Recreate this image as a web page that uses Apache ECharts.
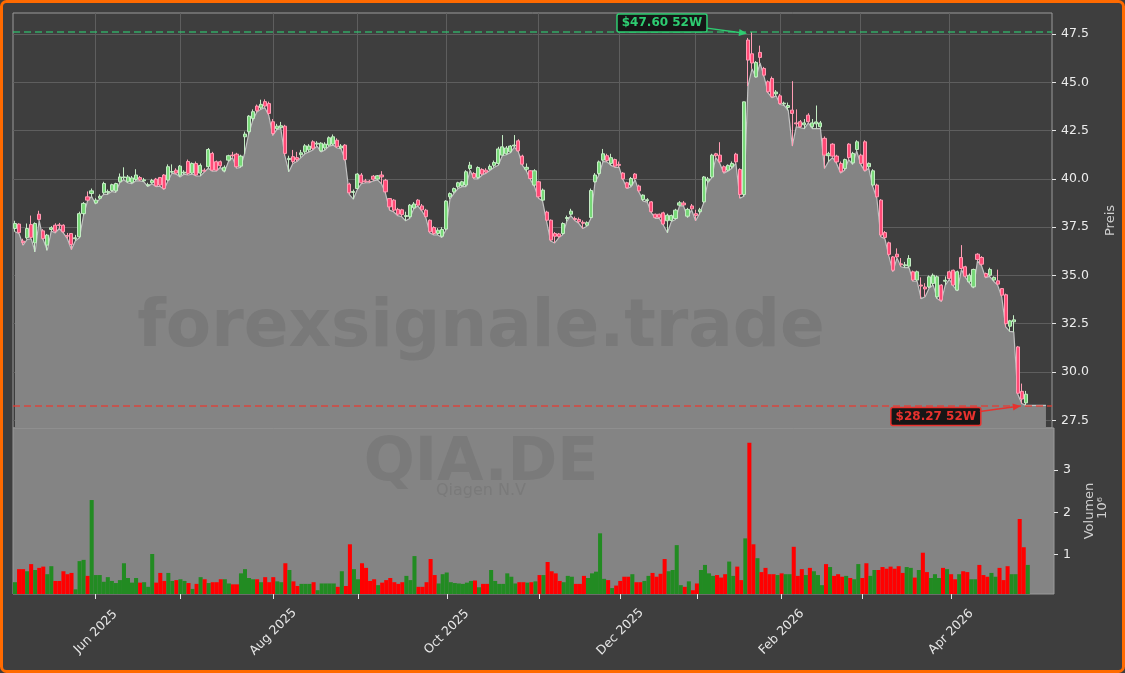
<!DOCTYPE html>
<html><head><meta charset="utf-8">
<script src="https://cdn.jsdelivr.net/npm/echarts@6.0.0/dist/echarts.min.js"></script>
<style>html,body{margin:0;padding:0;background:#3e3e3e;}#c{width:1125px;height:673px;}</style>
</head><body><div id="c"></div>
<script>
// ---- data ----
const startDate = '2025-05-05';
const endDate = '2026-04-30';
const holidays = ['2025-12-24','2025-12-25','2025-12-26','2025-12-31','2026-01-01','2026-04-03','2026-04-06'];
const monthNames = ['Jan','Feb','Mar','Apr','May','Jun','Jul','Aug','Sep','Oct','Nov','Dec'];
const priceTicks = [27.5, 30, 32.5, 35, 37.5, 40, 42.5, 45, 47.5];
const volumeTicks = [1, 2, 3];

const opens = [37.43,37.66,36.78,36.95,37.64,36.69,38.17,37.31,36.57,37.38,
37.60,37.62,37.60,37.07,37.17,36.90,37.00,38.20,39.07,39.24,
38.75,39.00,39.28,39.30,39.40,39.38,39.85,40.06,39.85,39.82,
39.97,40.07,39.90,39.65,39.80,39.99,40.07,40.20,39.94,40.35,
40.45,40.19,40.30,40.90,40.30,40.80,40.30,40.45,40.63,41.32,
40.89,40.89,40.42,40.97,41.23,41.28,40.66,42.18,42.44,43.13,
43.77,43.68,44.00,43.90,42.96,42.60,42.65,42.73,41.00,41.15,
41.10,41.25,41.40,41.50,41.92,41.80,41.45,41.60,41.75,41.80,
42.00,41.60,41.75,39.73,39.30,39.50,40.20,39.90,39.88,40.14,
39.99,40.20,39.93,38.98,38.90,38.42,38.40,38.05,38.04,38.50,
38.90,38.60,38.38,37.86,37.48,37.17,37.03,37.40,39.07,39.33,
39.59,39.65,39.68,40.54,40.28,40.07,40.49,40.45,40.50,40.70,
40.80,41.23,41.30,41.40,41.70,41.97,41.18,40.50,40.42,39.68,
39.85,38.90,38.28,37.86,37.17,37.15,37.17,37.95,38.17,37.95,
37.90,37.75,37.60,38.00,39.85,40.28,40.97,41.20,40.80,41.00,
40.75,40.30,39.80,39.68,40.25,39.63,38.93,38.88,38.81,38.17,
38.17,38.24,37.83,37.85,37.95,38.64,38.75,38.07,38.60,38.20,
38.30,38.81,39.90,40.10,41.30,41.23,40.63,40.45,40.63,41.28,
40.49,39.19,47.19,46.48,45.28,46.55,45.72,45.03,45.20,44.40,
44.30,43.88,43.70,43.56,42.90,42.96,42.80,43.30,42.70,42.85,
42.70,42.10,41.20,41.80,41.18,40.80,40.54,41.80,40.83,41.52,
41.23,41.92,40.63,39.68,39.68,38.90,37.22,36.69,35.96,36.10,
35.60,35.50,35.48,35.19,34.76,34.50,34.40,34.41,34.58,33.89,
34.50,34.70,35.19,35.27,34.24,35.93,35.45,34.67,34.41,36.10,
35.93,35.10,35.01,34.76,34.72,34.32,34.00,32.37,32.60,31.30,
29.00,28.40];
const closes = [37.69,37.22,36.70,37.43,36.97,37.69,37.90,36.91,37.09,37.47,
37.29,37.58,37.26,37.03,36.60,36.95,38.20,38.73,38.90,39.38,
38.90,39.10,39.76,39.35,39.70,39.76,40.10,40.10,40.10,40.05,
40.20,39.95,39.95,39.70,39.92,39.64,39.68,39.50,40.63,40.38,
40.30,40.66,40.35,40.28,40.80,40.20,40.70,40.40,41.52,40.45,
40.45,40.68,40.60,41.20,41.20,40.63,41.18,42.32,43.25,43.48,
43.53,43.86,43.77,43.39,42.35,42.73,42.75,41.32,41.06,40.90,
41.00,41.35,41.71,41.70,41.58,41.85,41.85,41.80,42.13,42.18,
41.66,41.70,41.00,39.28,39.35,40.25,39.80,39.85,39.85,39.98,
40.16,40.10,39.33,38.55,38.38,38.17,38.15,38.10,38.64,38.70,
38.64,38.40,38.04,37.26,37.17,37.34,37.38,38.85,39.24,39.50,
39.80,39.85,40.37,40.71,40.07,40.59,40.25,40.35,40.65,40.85,
41.55,41.66,41.60,41.70,41.75,41.45,40.76,40.60,40.02,40.42,
39.07,39.42,37.86,36.83,37.03,37.02,37.69,38.00,38.33,37.90,
37.78,37.70,37.73,39.40,40.20,40.88,41.30,40.95,41.10,40.66,
40.70,40.00,39.54,40.02,40.02,39.38,39.16,38.92,38.30,38.00,
38.00,37.66,38.12,38.10,38.38,38.76,38.65,38.42,38.45,38.10,
38.40,40.10,40.00,41.23,41.20,40.88,40.37,40.70,40.80,40.88,
39.19,43.99,46.15,46.00,46.03,46.29,45.37,44.51,44.25,44.50,
43.90,43.92,43.80,43.39,42.85,42.70,42.90,42.96,42.90,42.95,
42.90,41.23,41.30,41.18,40.88,40.37,41.00,41.10,41.32,41.92,
40.80,40.45,40.80,40.42,39.07,37.09,36.97,36.09,35.27,35.96,
35.55,35.55,35.88,34.76,35.19,34.45,34.30,34.93,35.01,34.93,
33.72,34.75,34.84,34.50,35.19,35.36,34.96,35.01,35.31,35.83,
35.58,34.93,35.31,34.90,34.55,33.98,32.50,32.65,32.70,28.90,
28.60,28.85];
const lows = [37.26,37.17,36.57,36.86,36.90,36.22,37.85,36.86,36.30,37.30,
37.20,37.43,37.20,36.90,36.34,36.80,36.95,38.10,38.85,39.10,
38.70,38.95,39.20,39.20,39.35,39.30,39.80,39.95,39.80,39.75,
39.90,39.90,39.85,39.60,39.75,39.60,39.62,39.45,39.90,40.30,
40.25,40.10,40.25,40.20,40.25,40.15,40.15,40.35,40.55,40.40,
40.40,40.60,40.35,40.90,41.10,40.55,40.60,41.30,42.30,43.00,
43.45,43.60,43.70,43.30,42.25,42.55,42.60,41.20,40.37,40.80,
40.90,41.10,41.30,41.40,41.50,41.70,41.40,41.50,41.70,41.75,
41.60,41.55,40.95,39.20,38.95,39.45,39.75,39.80,39.80,39.90,
39.95,39.75,39.25,38.38,38.30,38.10,38.05,37.83,37.95,38.45,
38.60,38.35,38.00,37.20,37.10,37.10,36.96,37.35,38.95,39.25,
39.50,39.60,39.60,40.45,40.00,40.00,40.20,40.30,40.45,40.60,
40.71,41.20,41.25,41.35,41.65,41.40,40.70,40.40,39.95,39.60,
39.00,38.85,37.80,36.78,36.68,36.95,37.10,37.80,38.10,37.85,
37.70,37.43,37.55,37.95,39.80,40.20,40.90,40.88,40.70,40.60,
40.60,39.95,39.50,39.60,39.95,39.30,38.85,38.80,38.25,37.95,
37.95,37.60,37.21,37.80,37.90,38.60,38.60,38.00,38.40,37.83,
38.20,38.75,39.80,40.05,41.10,40.80,40.30,40.40,40.55,40.80,
39.00,39.10,44.80,45.70,45.25,46.00,45.30,44.45,44.20,44.30,
43.85,43.80,43.55,41.70,42.70,42.65,42.60,42.90,42.60,42.60,
42.60,40.54,40.90,41.10,40.80,40.30,40.45,41.00,40.75,41.45,
40.75,40.40,40.55,39.60,39.00,37.00,36.90,36.00,35.20,35.90,
35.45,35.40,35.40,34.70,34.70,33.80,33.90,34.35,34.50,33.80,
33.65,34.50,34.80,34.45,34.20,35.30,34.90,34.60,34.35,35.75,
35.50,34.88,34.95,34.70,34.50,33.90,32.34,32.10,32.08,28.85,
28.37,28.27];
const highs = [37.83,37.70,36.90,37.69,38.10,37.75,38.35,37.40,37.15,37.55,
37.70,37.72,37.65,37.20,37.20,37.10,38.30,38.80,39.35,39.50,
39.00,39.20,39.85,39.45,39.75,39.80,40.28,40.60,40.20,40.15,
40.50,40.15,40.05,39.80,40.00,40.05,40.10,40.25,40.75,40.75,
40.55,40.72,40.45,41.00,40.85,40.90,40.80,40.55,41.60,41.40,
40.95,40.95,40.70,41.25,41.40,41.35,41.25,42.45,43.30,43.60,
43.85,44.10,44.12,44.00,43.10,42.85,42.95,42.80,41.20,41.50,
41.40,41.50,41.80,41.80,42.00,41.95,41.90,41.90,42.20,42.30,
42.10,41.80,41.80,39.80,39.45,40.30,40.30,40.00,39.95,40.20,
40.20,40.40,40.00,39.00,38.95,38.50,38.45,38.30,38.70,38.80,
38.95,38.70,38.45,37.90,37.55,37.45,37.50,38.90,39.30,39.55,
39.85,39.90,40.45,40.88,40.35,40.65,40.55,40.55,40.75,40.95,
41.66,42.27,41.70,41.75,42.27,42.05,41.25,40.80,40.45,40.50,
39.90,39.50,38.35,37.90,37.25,37.20,37.75,38.10,38.45,38.05,
38.00,37.85,37.80,39.50,40.30,40.95,41.55,41.30,41.30,41.05,
40.90,40.35,39.85,40.10,40.30,39.70,39.20,39.00,38.85,38.20,
38.20,38.30,38.20,38.15,38.45,38.85,38.85,38.50,38.70,38.40,
38.50,40.15,40.10,41.30,41.35,41.90,40.70,40.75,40.90,41.35,
40.55,44.00,47.30,47.60,46.10,46.90,45.80,45.10,45.30,44.60,
44.40,44.00,43.95,45.06,43.60,43.05,43.10,43.40,43.10,43.80,
43.00,42.20,41.40,41.85,41.25,40.90,41.05,41.85,41.40,42.00,
41.30,42.00,40.85,40.50,39.75,38.95,37.30,36.75,36.00,36.40,
35.90,35.70,36.05,35.25,35.25,34.90,34.60,35.00,35.10,35.00,
34.55,34.95,35.25,35.30,35.25,36.57,35.50,35.10,35.35,36.15,
36.00,35.15,35.40,34.95,35.30,34.35,34.06,32.70,32.94,31.35,
29.40,29.02];
// volume in millions
const volumes = [0.34,0.65,0.65,0.60,0.77,0.63,0.68,0.71,0.53,0.72,
0.37,0.37,0.60,0.53,0.56,0.17,0.84,0.87,0.49,2.29,
0.51,0.51,0.35,0.46,0.37,0.32,0.39,0.79,0.44,0.33,
0.44,0.33,0.34,0.23,1.01,0.33,0.56,0.37,0.56,0.37,
0.39,0.41,0.37,0.32,0.18,0.30,0.46,0.41,0.32,0.34,
0.34,0.41,0.41,0.31,0.29,0.29,0.55,0.65,0.44,0.41,
0.41,0.34,0.46,0.34,0.46,0.36,0.34,0.79,0.63,0.36,
0.25,0.30,0.30,0.30,0.34,0.15,0.31,0.31,0.31,0.31,
0.23,0.60,0.25,1.24,0.65,0.41,0.79,0.68,0.37,0.41,
0.27,0.33,0.39,0.44,0.34,0.30,0.34,0.49,0.39,0.96,
0.23,0.23,0.34,0.89,0.51,0.31,0.53,0.57,0.34,0.32,
0.31,0.30,0.33,0.37,0.38,0.22,0.30,0.30,0.63,0.37,
0.30,0.30,0.55,0.47,0.31,0.34,0.34,0.33,0.34,0.36,
0.51,0.51,0.82,0.60,0.55,0.37,0.34,0.49,0.47,0.30,
0.30,0.49,0.44,0.55,0.59,1.50,0.42,0.39,0.20,0.26,
0.37,0.47,0.47,0.53,0.34,0.34,0.37,0.49,0.56,0.47,
0.54,0.89,0.60,0.63,1.22,0.27,0.23,0.36,0.15,0.31,
0.63,0.75,0.55,0.49,0.51,0.45,0.53,0.83,0.49,0.71,
0.39,1.38,3.65,1.24,0.91,0.58,0.68,0.53,0.53,0.51,
0.55,0.53,0.53,1.18,0.49,0.65,0.51,0.68,0.60,0.51,
0.27,0.77,0.70,0.49,0.53,0.47,0.49,0.44,0.41,0.77,
0.44,0.79,0.49,0.63,0.63,0.70,0.66,0.71,0.66,0.72,
0.56,0.70,0.68,0.45,0.63,1.04,0.58,0.44,0.53,0.44,
0.68,0.65,0.53,0.41,0.53,0.60,0.58,0.41,0.41,0.75,
0.51,0.47,0.56,0.47,0.68,0.39,0.72,0.53,0.53,1.84,
1.17,0.75];

// ---- derived ----
function buildDates(){
  const out=[]; let d=new Date(startDate+'T12:00:00Z'); const end=new Date(endDate+'T12:00:00Z');
  while(d<=end){ const wd=d.getUTCDay(); const s=d.toISOString().slice(0,10);
    if(wd!==0&&wd!==6&&holidays.indexOf(s)<0) out.push(s);
    d=new Date(d.getTime()+86400000); }
  return out;
}
const dates = buildDates();
const N = opens.length;
const PAD = 6;
const cats = dates.slice(0,N).concat(Array.from({length:PAD},(_, k)=>'pad'+k));
const monthStart = new Set(); const monthLabel = new Set();
for(let i=1;i<N;i++){ if(dates[i].slice(5,7)!==dates[i-1].slice(5,7)){ monthStart.add(i); if((+dates[i].slice(5,7)-1)%2===1) monthLabel.add(i);} }
const ohlc = opens.map((o,i)=>[o, closes[i], lows[i], highs[i]]);
const hi = Math.max.apply(null, highs), lo = Math.min.apply(null, lows);
const lowLine = lows.concat(Array(PAD-1).fill(lows[N-1]));
const volData = volumes.map((v,i)=>({value:v, itemStyle:{color: closes[i]>=opens[i] ? '#228b22' : '#ff0000'}}));

const FONT = 'DejaVu Sans';
const chart = echarts.init(document.getElementById('c'), null, {renderer:'canvas'});
const option = {
  animation:false,
  backgroundColor:'#3e3e3e',
  grid:[
    {left:13, top:13, width:1041, height:415, show:true, borderColor:'#9a9a9a', borderWidth:1, backgroundColor:'transparent'},
    {left:13, top:428, width:1041, height:166, show:true, borderColor:'#9a9a9a', borderWidth:1, backgroundColor:'#848484'}
  ],
  xAxis:[
    {type:'category', gridIndex:0, data:cats, boundaryGap:true, axisLine:{show:false}, axisTick:{show:false}, axisLabel:{show:false}, splitLine:{show:false}},
    {type:'category', gridIndex:1, data:cats, boundaryGap:true, axisLine:{show:false},
      axisTick:{show:true, alignWithLabel:true, interval:(i)=>monthStart.has(i), length:5, lineStyle:{color:'#e6e6e6'}},
      axisLabel:{show:true, interval:(i)=>monthLabel.has(i), rotate:45, align:'center', verticalAlign:'middle', margin:38,
        color:'#e6e6e6', fontSize:12.5, fontFamily:FONT,
        formatter:(v)=> v.indexOf('pad')===0 ? '' : monthNames[+v.slice(5,7)-1]+' '+v.slice(0,4)},
      splitLine:{show:false}}
  ],
  yAxis:[
    {type:'value', gridIndex:0, position:'right', min:27.1, max:48.59, axisLine:{show:false},
      axisTick:{show:true, customValues:priceTicks, length:4, lineStyle:{color:'#e6e6e6'}},
      axisLabel:{customValues:priceTicks, formatter:(v)=>(+v).toFixed(1), margin:9, color:'#ececec', fontSize:12.5, fontFamily:FONT},
      splitLine:{show:false},
      name:'Preis', nameLocation:'middle', nameRotate:90, nameGap:52, nameTextStyle:{color:'#cfcfcf', fontSize:13, fontFamily:FONT}},
    {type:'value', gridIndex:1, position:'right', min:0.06, max:4.0, axisLine:{show:false},
      axisTick:{show:true, customValues:volumeTicks, length:4, lineStyle:{color:'#e6e6e6'}},
      axisLabel:{customValues:volumeTicks, margin:9, color:'#ececec', fontSize:12.5, fontFamily:FONT},
      splitLine:{show:false},
      name:'Volumen', nameLocation:'middle', nameRotate:90, nameGap:29, nameTextStyle:{color:'#cfcfcf', fontSize:13, fontFamily:FONT}}
  ],
  series:[
    {type:'line', xAxisIndex:0, yAxisIndex:0, data:[], z:1, silent:true,
      markLine:{z:1, silent:true, symbol:'none', label:{show:false}, animation:false,
        lineStyle:{color:'#5e5e5e', width:1, type:'solid'},
        data: Array.from(monthStart).map(i=>({xAxis:i})).concat(priceTicks.map(v=>({yAxis:v})))}},
    {type:'line', xAxisIndex:0, yAxisIndex:0, data:lowLine, symbol:'none', z:2, silent:true,
      lineStyle:{color:'#c2c2c2', width:1.2}, areaStyle:{color:'#848484', opacity:1, origin:'start'}},
    {type:'candlestick', xAxisIndex:0, yAxisIndex:0, data:ohlc, barWidth:3.6, z:5,
      itemStyle:{color:'#78d878', color0:'#ff4a76', borderColor:'#c4ecc4', borderColor0:'#ff9db4', borderWidth:1},
      markLine:{z:6, silent:true, symbol:'none', label:{show:false}, animation:false,
        data:[{yAxis:hi, lineStyle:{color:'rgba(46,204,113,0.75)', width:1.5, type:[7,4]}},
              {yAxis:lo, lineStyle:{color:'rgba(231,60,50,0.85)', width:1.5, type:[7,4]}}]}},
    {type:'bar', xAxisIndex:1, yAxisIndex:1, data:volData, barCategoryGap:'0%', z:3}
  ]
};
chart.setOption(option);

function arrow(x1,y1,x2,y2,color){
  const a=Math.atan2(y2-y1,x2-x1), L=8, W=3.5;
  const bx=x2-L*Math.cos(a), by=y2-L*Math.sin(a);
  return [
    {type:'line', z:20, shape:{x1:x1,y1:y1,x2:bx,y2:by}, style:{stroke:color, lineWidth:1.5}},
    {type:'polygon', z:20, shape:{points:[[x2,y2],[bx+W*Math.sin(a),by-W*Math.cos(a)],[bx-W*Math.sin(a),by+W*Math.cos(a)]]}, style:{fill:color}}
  ];
}
function labelBox(cx,cy,txt,color){
  return [
    {type:'rect', z:20, shape:{x:cx-45, y:cy-9, width:90, height:18, r:2}, style:{fill:'#161616', stroke:color, lineWidth:1.5}},
    {type:'text', z:21, x:cx, y:cy, style:{text:txt, fill:color, font:'bold 12px "DejaVu Sans"', align:'center', verticalAlign:'middle', textAlign:'center', textVerticalAlign:'middle'}}
  ];
}
const pH = chart.convertToPixel({xAxisIndex:0, yAxisIndex:0}, [highs.indexOf(hi), hi]);
const pL = chart.convertToPixel({xAxisIndex:0, yAxisIndex:0}, [lows.indexOf(lo), lo]);
const green = '#2ecc71', red = '#e8322e';
const wm = (x,y,txt,font,color)=>({type:'text', z:3, silent:true, x:x, y:y, style:{text:txt, font:font, fill:color, align:'center', verticalAlign:'middle', textAlign:'center', textVerticalAlign:'middle'}});
const graphics = [
  wm(481, 329, 'forexsignale.trade', 'bold 66px "DejaVu Sans"', '#797979'),
  wm(481, 464, 'QIA.DE', 'bold 60px "DejaVu Sans"', '#7a7a7a'),
  wm(481, 491, 'Qiagen N.V', '16px "DejaVu Sans"', '#7a7a7a'),
  {type:'text', z:20, x:1103, y:508, rotation:Math.PI/2, style:{text:'10\u2076', font:'13px "DejaVu Sans"', fill:'#cfcfcf', align:'center', verticalAlign:'middle', textAlign:'center', textVerticalAlign:'middle'}}
]
.concat(labelBox(pH[0]-90, pH[1]-9, '$'+hi.toFixed(2)+' 52W', green))
.concat(arrow(pH[0]-45, pH[1]-4, pH[0]-5, pH[1]+1.5, green))
.concat(labelBox(pL[0]-90, pL[1]+11, '$'+lo.toFixed(2)+' 52W', red))
.concat(arrow(pL[0]-46, pL[1]+6, pL[0]-5, pL[1]+0.5, red))
.concat([{type:'rect', z:100, silent:true, shape:{x:1.5, y:1.5, width:1122, height:670, r:5}, style:{fill:null, stroke:'#ff6a00', lineWidth:3}}]);
chart.setOption({graphic: graphics});
</script>
</body></html>
